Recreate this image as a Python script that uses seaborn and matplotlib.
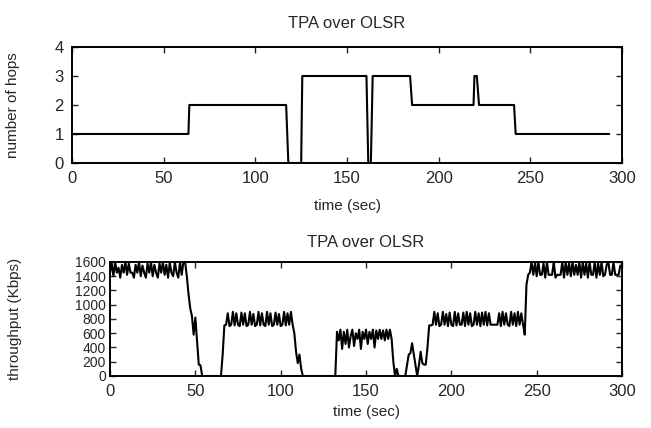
import numpy as np
import pandas as pd
import matplotlib
matplotlib.use("Agg")
import matplotlib.pyplot as plt
import seaborn as sns

# ===== data: number of hops (step-like route changes) =====
hop_time = [0, 63.5, 64, 116.8, 118, 125, 125.6, 160.6, 161.6, 163, 164,
            184.4, 185.5, 219, 219.5, 220.8, 222, 241.1, 242, 293]
hop_count = [1, 1, 2, 2, 0, 0, 3, 3, 0, 0, 3,
             3, 2, 2, 3, 3, 2, 2, 1, 1]

# ===== data: throughput sampled once per second =====
thr_values = [
    # 0-43
    1450, 1580, 1400, 1600, 1450, 1520, 1380, 1560, 1450, 1600,
    1420, 1580, 1450, 1450, 1380, 1560, 1450, 1600, 1400, 1550,
    1450, 1380, 1580, 1450, 1600, 1400, 1560, 1450, 1380, 1580,
    1450, 1600, 1420, 1560, 1380, 1590, 1450, 1400, 1600, 1450,
    1380, 1600, 1420, 1600,
    # 44-67
    1600, 1400, 1150, 950, 840, 580, 820, 500, 160, 150,
    0, 0, 0, 0, 0, 0, 0, 0, 0, 0,
    0, 0, 300, 710,
    # 68-107
    720, 880, 700, 720, 900, 710, 880, 720, 700, 890,
    720, 880, 700, 720, 900, 720, 870, 700, 720, 900,
    710, 880, 720, 700, 900, 720, 880, 700, 720, 890,
    720, 870, 700, 720, 900, 710, 880, 720, 900, 720,
    # 108-133
    600, 340, 180, 300, 100, 0, 0, 0, 0, 0,
    0, 0, 0, 0, 0, 0, 0, 0, 0, 0,
    0, 0, 0, 0, 0, 620,
    # 134-165
    500, 650, 380, 620, 450, 650, 400, 560, 650, 420,
    600, 520, 650, 380, 620, 520, 650, 450, 620, 520,
    650, 400, 640, 520, 650, 520, 640, 500, 650, 520,
    650, 520,
    # 166-190
    200, 0, 100, 0, 0, 0, 0, 0, 150, 300,
    320, 460, 300, 150, 0, 150, 340, 180, 160, 160,
    400, 710, 710, 720, 900,
    # 191-247
    720, 880, 700, 720, 900, 720, 870, 700, 890, 720,
    700, 900, 710, 880, 720, 720, 890, 700, 900, 720,
    880, 700, 720, 900, 720, 880, 700, 890, 720, 900,
    710, 880, 720, 720, 720, 720, 720, 880, 700, 900,
    720, 880, 720, 700, 900, 720, 880, 700, 900, 720,
    880, 720, 580, 1280, 1420, 1450, 1600,
    # 248-299
    1420, 1580, 1400, 1600, 1420, 1420, 1580, 1380, 1600, 1420,
    1420, 1420, 1600, 1380, 1420, 1420, 1420, 1600, 1380, 1600,
    1420, 1580, 1400, 1600, 1420, 1560, 1420, 1600, 1380, 1600,
    1420, 1580, 1380, 1600, 1420, 1420, 1600, 1380, 1580, 1420,
    1600, 1400, 1420, 1560, 1600, 1420, 1420, 1600, 1420, 1420,
    1420, 1550,
]
thr_time = list(range(len(thr_values)))

hop_ticks = [0, 1, 2, 3, 4]
thr_ticks = [0, 200, 400, 600, 800, 1000, 1200, 1400, 1600]
time_ticks = [0, 50, 100, 150, 200, 250, 300]

sns.set_style("ticks")
plt.rcParams["font.family"] = ["Liberation Sans", "DejaVu Sans"]

fig = plt.figure(figsize=(6.51, 4.28), dpi=100)
ax1 = fig.add_axes([0.1106, 0.6192, 0.8449, 0.2710])
ax2 = fig.add_axes([0.1690, 0.1215, 0.7865, 0.2664])

hops_df = pd.DataFrame({"time": hop_time, "hops": hop_count})
thr_df = pd.DataFrame({"time": thr_time, "thr": thr_values})

sns.lineplot(data=hops_df, x="time", y="hops", ax=ax1, color="black", linewidth=1.5)
sns.lineplot(data=thr_df, x="time", y="thr", ax=ax2, color="black", linewidth=1.5)

for ax in (ax1, ax2):
    ax.set_xlim(0, 300)
    ax.set_xticks(time_ticks)
    ax.tick_params(direction="in", top=True, right=True, length=4, width=1,
                   labelsize=12, pad=6)
    for s in ax.spines.values():
        s.set_linewidth(1.4)
        s.set_color("black")

ax1.set_title("TPA over OLSR", fontsize=12, pad=14)
ax2.set_title("TPA over OLSR", fontsize=12, pad=11)
ax1.set_xlabel("time (sec)", fontsize=11, labelpad=9)
ax2.set_xlabel("time (sec)", fontsize=11, labelpad=4)

ax1.set_ylim(0, 4)
ax1.set_yticks(hop_ticks)
ax1.set_ylabel("number of hops", fontsize=11)
ax1.yaxis.set_label_coords(-0.095, 0.5)

ax2.set_ylim(0, 1600)
ax2.set_yticks(thr_ticks)
ax2.tick_params(axis="y", labelsize=10, pad=3)
ax2.set_ylabel("throughput (Kbps)", fontsize=11)
ax2.yaxis.set_label_coords(-0.172, 0.5)

fig.savefig("out.png", dpi=100)
